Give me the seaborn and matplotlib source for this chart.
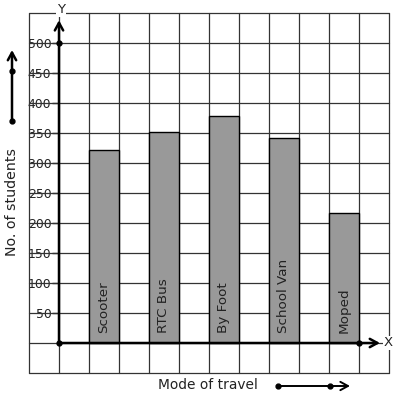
import matplotlib
matplotlib.use("Agg")
import matplotlib.pyplot as plt
import seaborn as sns
import pandas as pd
from matplotlib.lines import Line2D

sns.set_style("white")
plt.rcParams["font.family"] = ["DejaVu Sans"]

modes = ["Scooter", "RTC Bus", "By Foot", "School Van", "Moped"]
students = [322, 351, 378, 341, 216]
ytick_values = [50, 100, 150, 200, 250, 300, 350, 400, 450, 500]
ytick_labels = ["50", "100", "150", "200", "250", "300", "350", "400", "450", "500"]

W, H = 397, 399
fig = plt.figure(figsize=(W / 100, H / 100), dpi=100)
ax = fig.add_axes([29 / W, 26 / H, 360 / W, 360 / H])

pos = [2.5 + 2 * i for i in range(len(modes))]
df = pd.DataFrame({"pos": pos, "students": students, "mode": modes})
sns.barplot(data=df, x="pos", y="students", native_scale=True, width=0.5,
            color="#999999", saturation=1, edgecolor="black", linewidth=1.0,
            ax=ax, zorder=2)

ax.set_xlim(0, 12)
ax.set_ylim(-50, 550)
for s in ax.spines.values():
    s.set_visible(False)
ax.patch.set_alpha(0)

grid_c = "#333333"
for x in range(13):
    ax.axvline(x, color=grid_c, lw=0.9, zorder=1, clip_on=False)
for y in range(-50, 551, 50):
    ax.axhline(y, color=grid_c, lw=0.9, zorder=1, clip_on=False)

# y-axis ticks placed on axis line at x=1
ax.spines["left"].set_position(("data", 1))
ax.set_yticks(ytick_values)
ax.set_yticklabels(ytick_labels)
ax.tick_params(axis="y", length=5, width=1, direction="out", pad=0.5,
               labelsize=8.9, colors="#222222", left=True)
for lbl in ax.get_yticklabels():
    lbl.set_bbox(dict(facecolor="white", edgecolor="none", pad=0.3))
ax.set_xticks([])
ax.set_xlabel("")
ax.set_ylabel("")

# axes arrows
arrow = dict(arrowstyle="->,head_length=0.55,head_width=0.3", lw=1.8,
             color="black", shrinkA=0, shrinkB=0)
ax.annotate("", xy=(1, 538), xytext=(1, 0), arrowprops=arrow, zorder=4,
            annotation_clip=False)
ax.annotate("", xy=(11.7, 0), xytext=(1, 0), arrowprops=arrow, zorder=4,
            annotation_clip=False)
ax.plot([1, 1, 11], [0, 500, 0], "o", ms=3.5, color="black", zorder=5,
        clip_on=False)
ax.text(1.07, 555, "Y", ha="center", va="center", fontsize=9.5,
        color="#222222", bbox=dict(facecolor="white", edgecolor="none", pad=0.5),
        zorder=6, clip_on=False)
ax.text(11.97, 0, "X", ha="center", va="center", fontsize=9.5,
        color="#222222", bbox=dict(facecolor="white", edgecolor="none", pad=0.3),
        zorder=6, clip_on=False)

# bar labels
for p, m in zip(pos, modes):
    ax.text(p, 16, m, rotation=90, ha="center", va="bottom", fontsize=9.7,
            color="#222222", zorder=6)

# left label and arrow
fig.text(12 / W, 1 - 202 / H, "No. of students", rotation=90, ha="center",
         va="center", fontsize=10.2, color="#222222")
ax.annotate("", xy=(12 / W, 1 - 50 / H), xytext=(12 / W, 1 - 121 / H),
            xycoords="figure fraction", textcoords="figure fraction",
            arrowprops=arrow, annotation_clip=False)
fig.add_artist(Line2D([12 / W, 12 / W], [1 - 121 / H, 1 - 71 / H], ls="none",
                      marker="o", ms=3.5, color="black"))

# bottom label and arrow
fig.text(208 / W, 1 - 385 / H, "Mode of travel", ha="center", va="center",
         fontsize=9.9, color="#222222")
ax.annotate("", xy=(350 / W, 1 - 386 / H), xytext=(278 / W, 1 - 386 / H),
            xycoords="figure fraction", textcoords="figure fraction",
            arrowprops=dict(arrowstyle="->,head_length=0.55,head_width=0.3",
                            lw=1.4, color="black", shrinkA=0, shrinkB=0),
            annotation_clip=False)
fig.add_artist(Line2D([278 / W, 330 / W], [1 - 386 / H, 1 - 386 / H],
                      ls="none", marker="o", ms=3.5, color="black"))

fig.savefig("out.png", dpi=100)
